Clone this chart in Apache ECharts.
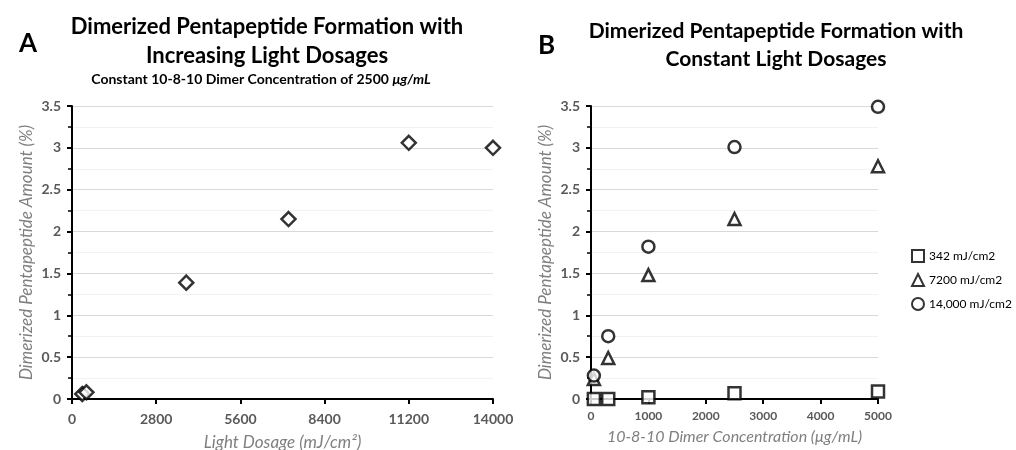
<!DOCTYPE html>
<html>
<head>
<meta charset="utf-8">
<script src="https://cdn.jsdelivr.net/npm/echarts@6/dist/echarts.min.js"></script>
<style>
html,body{margin:0;padding:0;background:#fff;}
#c{width:1016px;height:450px;}
</style>
</head>
<body>
<div id="c"></div>
<script>
// Chart A: light dosage (mJ/cm2) vs dimerized pentapeptide amount (%)
const dosageA = [342, 480, 3800, 7200, 11200, 14000];
const amountA = [0.06, 0.08, 1.39, 2.15, 3.06, 3.00];

// Chart B: dimer concentration (µg/mL) vs amount (%) for three light dosages
const concB = [50, 300, 1000, 2500, 5000];
const seriesNamesB = ['342 mJ/cm2', '7200 mJ/cm2', '14,000 mJ/cm2'];
const amount342 = [0.00, 0.00, 0.02, 0.07, 0.09];
const amount7200 = [0.24, 0.49, 1.48, 2.15, 2.78];
const amount14000 = [0.28, 0.75, 1.82, 3.01, 3.49];

const yTicksMax = 3.5;

const FONT = 'Lato';
const grey = '#595959';
const nameGrey = '#7f7f7f';

function pairs(xs, ys) { return xs.map((x, i) => [x, ys[i]]); }
const plain = v => String(v);

function yAxis(gridIndex) {
  return {
    gridIndex, type: 'value', min: 0, max: yTicksMax, interval: 0.5,
    name: 'Dimerized Pentapeptide Amount (%)', nameLocation: 'middle', nameGap: 37,
    nameTextStyle: { fontFamily: FONT, fontStyle: 'italic', fontSize: 17, color: nameGrey },
    axisLine: { show: true, lineStyle: { color: '#000', width: 2 } },
    axisTick: { show: true, length: 5, lineStyle: { color: '#000', width: 2 } },
    minorTick: { show: true, splitNumber: 2, length: 4, lineStyle: { color: '#000', width: 1.5 } },
    axisLabel: { fontFamily: FONT, fontWeight: 'bold', fontSize: 14, color: grey, margin: 11, formatter: plain },
    splitLine: { show: true, lineStyle: { color: '#d9d9d9', width: 1 } },
    minorSplitLine: { show: true, lineStyle: { color: '#f2f2f2', width: 1 } }
  };
}

const hollow = { color: '#fff', borderColor: '#000', borderWidth: 2.5 };

const option = {
  backgroundColor: '#fff',
  animation: false,
  title: [
    { text: 'A', left: 14, top: 26, textStyle: { fontFamily: FONT, fontWeight: 'bold', fontSize: 26, color: '#000' } },
    { text: 'B', left: 533, top: 28, textStyle: { fontFamily: FONT, fontWeight: 'bold', fontSize: 26, color: '#000' } },
    { text: 'Dimerized Pentapeptide Formation with\nIncreasing Light Dosages', left: 262, top: 7, textAlign: 'center',
      textStyle: { fontFamily: FONT, fontWeight: 'bold', fontSize: 22, lineHeight: 29, color: '#000' } },
    { text: '{n|Constant 10-8-10 Dimer Concentration of 2500 }{i|μg/mL}', left: 256, top: 67, textAlign: 'center',
      textStyle: { rich: {
        n: { fontFamily: FONT, fontWeight: 'bold', fontSize: 14, color: '#000' },
        i: { fontFamily: FONT, fontWeight: 'bold', fontStyle: 'italic', fontSize: 14, color: '#000' } } } },
    { text: 'Dimerized Pentapeptide Formation with\nConstant Light Dosages', left: 771, top: 12, textAlign: 'center',
      textStyle: { fontFamily: FONT, fontWeight: 'bold', fontSize: 21, lineHeight: 28, color: '#000' } }
  ],
  legend: {
    orient: 'vertical', left: 906, top: 244, itemGap: 10, itemWidth: 12, itemHeight: 12,
    data: seriesNamesB,
    textStyle: { fontFamily: FONT, fontSize: 12, color: '#000' }
  },
  grid: [
    { left: 72, top: 106, width: 421, height: 293, outerBoundsMode: 'none', containLabel: false },
    { left: 591, top: 106, width: 287, height: 293, outerBoundsMode: 'none', containLabel: false }
  ],
  xAxis: [
    { gridIndex: 0, type: 'value', min: 0, max: 14000, interval: 2800,
      name: 'Light Dosage (mJ/cm²)', nameLocation: 'middle', nameGap: 35,
      nameTextStyle: { fontFamily: FONT, fontStyle: 'italic', fontSize: 17, color: nameGrey },
      axisLine: { show: true, lineStyle: { color: '#000', width: 2 } },
      axisTick: { show: true, length: 5, lineStyle: { color: '#000', width: 2 } },
      axisLabel: { fontFamily: FONT, fontWeight: 'bold', fontSize: 14, color: grey, margin: 13, formatter: plain },
      splitLine: { show: false } },
    { gridIndex: 1, type: 'value', min: 0, max: 5000, interval: 1000,
      name: '10-8-10 Dimer Concentration (μg/mL)', nameLocation: 'middle', nameGap: 30,
      nameTextStyle: { fontFamily: FONT, fontStyle: 'italic', fontSize: 16, color: nameGrey },
      axisLine: { show: true, lineStyle: { color: '#000', width: 2 } },
      axisTick: { show: true, length: 5, lineStyle: { color: '#000', width: 2 } },
      axisLabel: { fontFamily: FONT, fontWeight: 'bold', fontSize: 12, color: grey, margin: 11, formatter: plain },
      splitLine: { show: false } }
  ],
  yAxis: [yAxis(0), yAxis(1)],
  series: [
    { name: 'Light Dosage', type: 'scatter', xAxisIndex: 0, yAxisIndex: 0, symbol: 'diamond', symbolSize: 14,
      itemStyle: hollow, data: pairs(dosageA, amountA) },
    { name: seriesNamesB[0], type: 'scatter', xAxisIndex: 1, yAxisIndex: 1, symbol: 'rect', symbolSize: 12,
      itemStyle: hollow, data: pairs(concB, amount342) },
    { name: seriesNamesB[1], type: 'scatter', xAxisIndex: 1, yAxisIndex: 1, symbol: 'triangle', symbolSize: 12,
      itemStyle: hollow, data: pairs(concB, amount7200) },
    { name: seriesNamesB[2], type: 'scatter', xAxisIndex: 1, yAxisIndex: 1, symbol: 'circle', symbolSize: 12,
      itemStyle: hollow, data: pairs(concB, amount14000) }
  ]
};

const chart = echarts.init(document.getElementById('c'), null, { renderer: 'canvas' });
chart.setOption(option);
</script>
</body>
</html>
